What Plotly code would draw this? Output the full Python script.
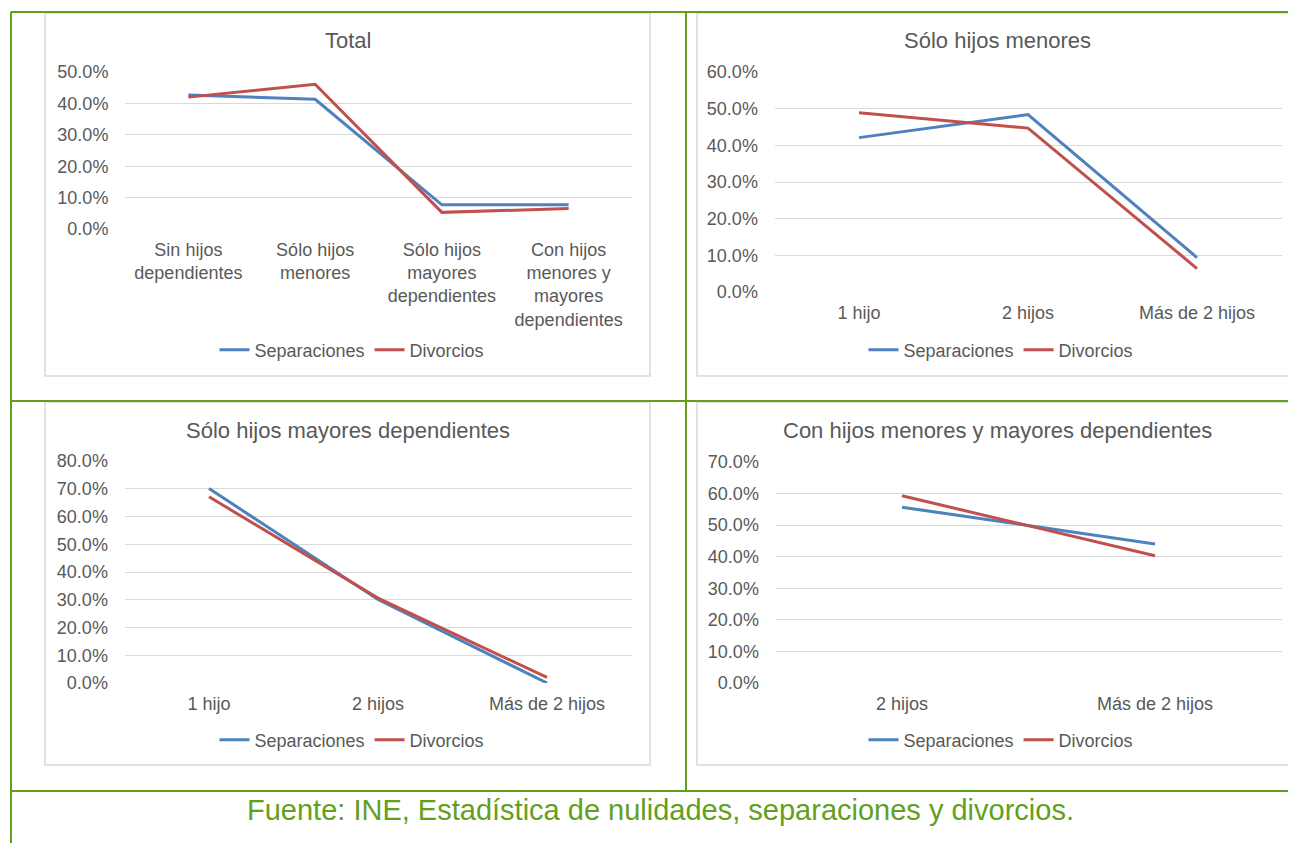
"""
Separaciones y divorcios según hijos dependientes (INE).
Four small line charts in a green-ruled table, Excel look.
"""

import plotly.graph_objs as go

# ---- data (percent) ----
cat_total = [
    "Sin hijos<br>dependientes",
    "Sólo hijos<br>menores",
    "Sólo hijos<br>mayores<br>dependientes",
    "Con hijos<br>menores y<br>mayores<br>dependientes",
]
sep_total = [42.7, 41.3, 7.7, 7.7]
div_total = [42.0, 46.1, 5.3, 6.5]

cat_hijos = ["1 hijo", "2 hijos", "Más de 2 hijos"]
sep_menores = [42.1, 48.4, 9.4]
div_menores = [48.9, 44.7, 6.4]

sep_mayores = [70.1, 30.1, 0.0]
div_mayores = [67.1, 30.6, 2.0]

cat_ambos = ["2 hijos", "Más de 2 hijos"]
sep_ambos = [55.7, 44.0]
div_ambos = [59.3, 40.3]

titles = [
    "Total",
    "Sólo hijos menores",
    "Sólo hijos mayores dependientes",
    "Con hijos menores y mayores dependientes",
]
y_max = [50, 60, 80, 70]
source = "Fuente: INE, Estadística de nulidades, separaciones y divorcios."

# ---- look ----
# the page body keeps its default 8px margin, so every page position
# below is shifted by that amount
OFF = 8
W, H = 1296 - OFF, 843 - OFF
BLUE = "#4f81bd"
RED = "#c0504d"
GREEN = "#62a01c"
GRID = "#d9d9d9"
TXT = "#595959"
FONT = "Liberation Sans, Arial, sans-serif"


def px_x(x):
    return (x - OFF) / W


def px_y(y):
    return 1 - (y - OFF) / H


# plot areas in page pixels: (left, right, top, bottom)
areas = [
    (125, 632, 72, 229),
    (774.5, 1281.5, 72, 292),
    (124.5, 631.5, 461, 683),
    (775.5, 1281.5, 462, 683),
]
# title / legend centers in page pixels
title_pos = [(348, 40), (997, 40), (348, 430), (997, 430)]
legend_pos = [(352, 350), (1001, 350), (352, 740), (1001, 740)]

panels = [
    (cat_total, sep_total, div_total),
    (cat_hijos, sep_menores, div_menores),
    (cat_hijos, sep_mayores, div_mayores),
    (cat_ambos, sep_ambos, div_ambos),
]

fig = go.Figure()
layout = {}
annotations = []

for i, (cats, sep, div) in enumerate(panels):
    n = "" if i == 0 else str(i + 1)
    leg = "legend" + n
    for name, vals, color in (("Separaciones", sep, BLUE), ("Divorcios", div, RED)):
        fig.add_trace(go.Scatter(
            x=cats, y=vals, name=name, mode="lines",
            line=dict(color=color, width=3),
            xaxis="x" + n, yaxis="y" + n, legend=leg,
        ))

    left, right, top, bottom = areas[i]
    layout["xaxis" + n] = dict(
        domain=[px_x(left), px_x(right)],
        anchor="y" + n,
        type="category",
        range=[-0.5, len(cats) - 0.5],
        showgrid=False, showline=False, zeroline=False,
        ticks="outside", ticklen=4, tickcolor="rgba(0,0,0,0)",
        tickfont=dict(size=18, color=TXT, family=FONT),
        automargin=False, fixedrange=True,
    )
    layout["yaxis" + n] = dict(
        domain=[px_y(bottom), px_y(top)],
        anchor="x" + n,
        range=[0, y_max[i]],
        dtick=10,
        tickformat=".1f", ticksuffix="%",
        showgrid=True, gridcolor=GRID, gridwidth=1,
        zeroline=False, showline=False,
        ticks="outside", ticklen=12, tickcolor="rgba(0,0,0,0)",
        tickfont=dict(size=18, color=TXT, family=FONT),
        automargin=False, fixedrange=True,
    )
    lx, ly = legend_pos[i]
    layout[leg] = dict(
        orientation="h", x=px_x(lx), y=px_y(ly),
        xanchor="center", yanchor="middle",
        font=dict(size=18, color=TXT, family=FONT),
        bgcolor="rgba(0,0,0,0)", itemwidth=30, tracegroupgap=0,
    )
    tx, ty = title_pos[i]
    annotations.append(dict(
        text=titles[i], x=px_x(tx), y=px_y(ty), xref="paper", yref="paper",
        xanchor="center", yanchor="middle", showarrow=False,
        font=dict(size=22, color=TXT, family=FONT),
    ))

annotations.append(dict(
    text=source, x=px_x(660), y=px_y(810), xref="paper", yref="paper",
    xanchor="center", yanchor="middle", showarrow=False,
    font=dict(size=29, color=GREEN, family=FONT),
))

# chart frames (gray) and table rules (green)
shapes = []
for x0, x1, y0, y1 in [(45, 650, 13, 376), (697, 1310, 13, 376),
                       (45, 650, 402, 765), (697, 1310, 402, 765)]:
    shapes.append(dict(
        type="rect", xref="paper", yref="paper",
        x0=px_x(x0), x1=px_x(x1), y0=px_y(y1), y1=px_y(y0),
        line=dict(color=GRID, width=1.5), layer="below",
    ))
for x0, y0, x1, y1 in [(11, 12, 11, 850), (11, 12, 1310, 12),
                       (686, 12, 686, 791), (11, 401, 1310, 401),
                       (11, 791, 1310, 791)]:
    shapes.append(dict(
        type="line", xref="paper", yref="paper",
        x0=px_x(x0), x1=px_x(x1), y0=px_y(y0), y1=px_y(y1),
        line=dict(color=GREEN, width=2),
    ))

fig.update_layout(
    width=W, height=H,
    margin=dict(l=0, r=0, t=0, b=0, autoexpand=False),
    paper_bgcolor="white", plot_bgcolor="white",
    font=dict(family=FONT, color=TXT),
    annotations=annotations,
    shapes=shapes,
    **layout,
)

fig.write_html("out.html")
